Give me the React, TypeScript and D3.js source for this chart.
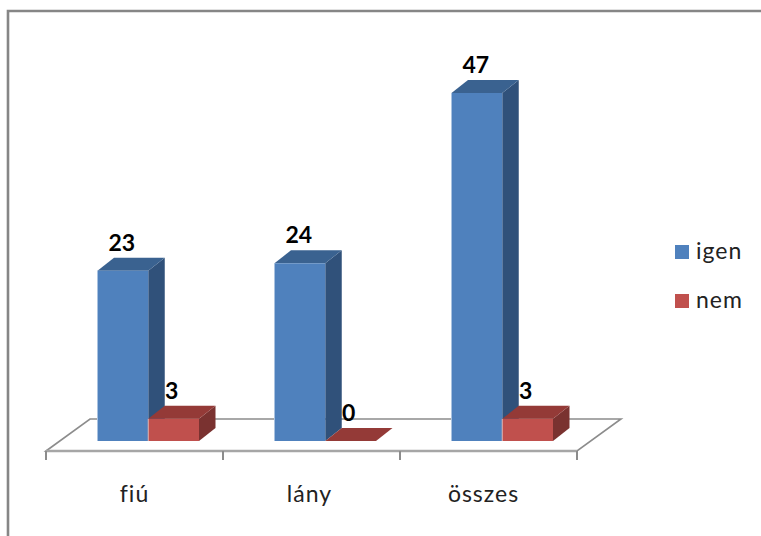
import React from "react";
import * as d3 from "d3";

const categories = ["fiú", "lány", "összes"];
const seriesNames = ["igen", "nem"];
const igenValues = [23, 24, 47];
const nemValues = [3, 0, 3];
const seriesValues = [igenValues, nemValues];
const frontColors = ["#4F81BD", "#C0504D"];
const topColors = ["#3A6290", "#943A37"];
const sideColors = ["#30517A", "#7A3230"];
const edgeColors = ["#A9C2E0", "#E3B5B3"];

const W = 761, H = 536;
const x0 = d3.scaleBand<string>().domain(categories).range([46, 577]);
const x1 = d3.scaleBand<string>().domain(seriesNames).range([51.5, 153]);
const y = d3.scaleLinear().domain([0, 47]).range([441, 93]);
const font = "Lato, 'Open Sans', sans-serif";
const dx = 16.5, dy = -13;
const poly = (p: number[][]) => p.map((q) => q.join(",")).join(" ");
const grey = "#8C8C8C";

export default function App() {
  return (
    <svg width={W} height={H} style={{ position: "absolute", left: 0, top: 0, background: "#fff" }}>
      <path d={`M8,536V11H761`} fill="none" stroke="#868686" strokeWidth={2.6} />
      {/* floor */}
      <path d="M46,451L90,419H621L577,451Z" fill="#fff" stroke={grey} strokeWidth={1.6} />
      <path d="M46,451H577" stroke="#A6A6A6" strokeWidth={2.4} />
      {d3.range(categories.length + 1).map((i) => {
        const tx = i < categories.length ? x0(categories[i])! : x0.range()[1];
        return <line key={i} x1={tx} x2={tx} y1={451} y2={460} stroke={grey} strokeWidth={2} />;
      })}
      {categories.map((c, ci) => (
        <text key={c} x={x0(c)! + x0.bandwidth() / 2 - (ci === 2 ? 5 : ci === 1 ? 2 : 0)} y={502}
          textAnchor="middle" fontFamily={font} fontSize={23} letterSpacing={1} fill="#222">{c}</text>
      ))}
      {categories.map((c, ci) =>
        [...seriesNames.keys()].map((si) => {
          const s = seriesNames[si];
          const l = x0(c)! + x1(s)!;
          const r = l + x1.bandwidth();
          const v = seriesValues[si][ci];
          const t = y(v), b = y(0);
          return (
            <g key={c + s}>
              {v > 0 && <polygon points={poly([[r, t], [r + dx, t + dy], [r + dx, b + dy], [r, b]])} fill={sideColors[si]} />}
              <polygon points={poly([[l, t], [l + dx, t + dy], [r + dx, t + dy], [r, t]])} fill={topColors[si]} />
              {v > 0 && <rect x={l} y={t} width={r - l} height={b - t} fill={frontColors[si]} />}
              {v > 0 && <line x1={l} x2={l} y1={t} y2={b} stroke={edgeColors[si]} strokeWidth={1} />}
            </g>
          );
        })
      )}
      {categories.map((c, ci) =>
        [...seriesNames.keys()].map((si) => {
          const s = seriesNames[si];
          const v = seriesValues[si][ci];
          const l = x0(c)! + x1(s)!;
          return (
            <text key={c + s} x={l + x1.bandwidth() / 2 + (si === 0 ? -1 : -2)} y={y(v) - 20}
              textAnchor="middle" fontFamily={font} fontSize={23} fontWeight={700} fill="#000">{v}</text>
          );
        })
      )}
      {seriesNames.map((s, i) => (
        <g key={s} transform={`translate(675,${245 + i * 49})`}>
          <rect width={14} height={14} fill={frontColors[i]} />
          <text x={21} y={14} fontFamily={font} fontSize={23} letterSpacing={1} fill="#222">{s}</text>
        </g>
      ))}
    </svg>
  );
}
